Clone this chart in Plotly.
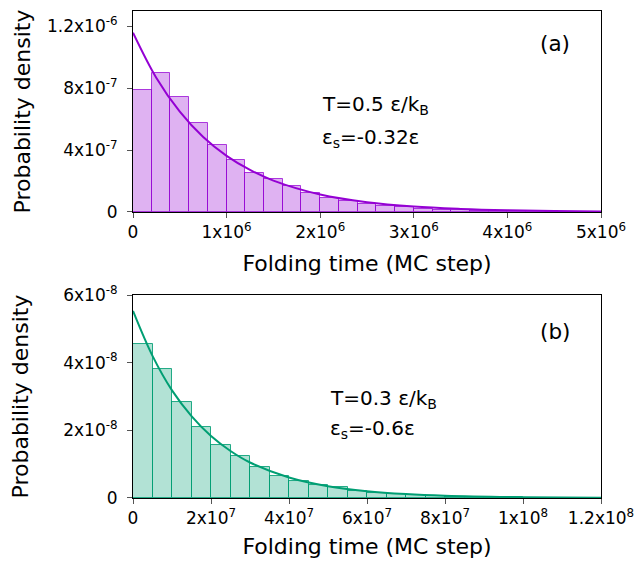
import numpy as np
import plotly.graph_objects as go

# ---------------- data ----------------
# Panel (a): histogram, bin width 2e5 MC steps, from 0 to 5e6
bin_width_a = 2e5
hist_a = [7.9e-7, 9.0e-7, 7.45e-7, 5.75e-7, 4.35e-7, 3.35e-7, 2.5e-7, 2.15e-7,
          1.68e-7, 1.2e-7, 9.3e-8, 7.1e-8, 5.4e-8, 4.1e-8, 3.2e-8, 2.2e-8,
          1.6e-8, 1.2e-8, 9e-9, 7e-9, 5e-9, 4e-9, 3e-9, 2e-9, 1.5e-9]
# Panel (a): fitted curve
fit_a_x = [0, 2.5e5, 5e5, 7.5e5, 1e6, 1.25e6, 1.5e6, 2e6, 2.5e6, 3e6, 3.5e6, 4e6, 4.5e6, 5e6]
fit_a_y = [1.16e-6, 8.67e-7, 6.49e-7, 4.85e-7, 3.63e-7, 2.72e-7, 2.03e-7, 1.13e-7,
           6.3e-8, 3.5e-8, 2.0e-8, 1.1e-8, 6.2e-9, 3.5e-9]

# Panel (b): histogram, bin width 5e6 MC steps, from 0 to 1.2e8
bin_width_b = 5e6
hist_b = [4.56e-8, 3.80e-8, 2.85e-8, 2.11e-8, 1.56e-8, 1.23e-8, 9.2e-9, 6.5e-9,
          5.1e-9, 3.8e-9, 3.2e-9, 2.2e-9, 1.6e-9, 1.2e-9, 8e-10, 6e-10,
          4e-10, 3e-10, 2e-10, 2e-10, 1e-10, 1e-10, 1e-10, 5e-11]
fit_b_x = [0, 5e6, 1e7, 1.5e7, 2e7, 2.5e7, 3e7, 4e7, 5e7, 6e7, 7e7, 8e7, 1e8, 1.2e8]
fit_b_y = [5.53e-8, 4.20e-8, 3.18e-8, 2.42e-8, 1.83e-8, 1.39e-8, 1.05e-8, 6.07e-9,
           3.49e-9, 2.01e-9, 1.15e-9, 6.6e-10, 2.2e-10, 7.3e-11]

# tick labels
xticks_a = [0, 1e6, 2e6, 3e6, 4e6, 5e6]
xlabels_a = ["0", "1x10<sup>6</sup>", "2x10<sup>6</sup>", "3x10<sup>6</sup>",
             "4x10<sup>6</sup>", "5x10<sup>6</sup>"]
yticks_a = [0, 4e-7, 8e-7, 1.2e-6]
ylabels_a = ["0", "4x10<sup>-7</sup>", "8x10<sup>-7</sup>", "1.2x10<sup>-6</sup>"]
xticks_b = [0, 2e7, 4e7, 6e7, 8e7, 1e8, 1.2e8]
xlabels_b = ["0", "2x10<sup>7</sup>", "4x10<sup>7</sup>", "6x10<sup>7</sup>",
             "8x10<sup>7</sup>", "1x10<sup>8</sup>", "1.2x10<sup>8</sup>"]
yticks_b = [0, 2e-8, 4e-8, 6e-8]
ylabels_b = ["0", "2x10<sup>-8</sup>", "4x10<sup>-8</sup>", "6x10<sup>-8</sup>"]

# ---------------- figure ----------------
PURPLE = "#9400d3"
GREEN = "#009e73"
FONT = "DejaVu Sans"

centers_a = np.arange(len(hist_a)) * bin_width_a + bin_width_a / 2
centers_b = np.arange(len(hist_b)) * bin_width_b + bin_width_b / 2

fig = go.Figure()
fig.add_trace(go.Bar(x=centers_a, y=hist_a, width=bin_width_a,
                     marker=dict(color="rgba(148,0,211,0.3)",
                                 line=dict(color="rgba(148,0,211,0.75)", width=1)),
                     xaxis="x", yaxis="y", showlegend=False))
fig.add_trace(go.Scatter(x=fit_a_x, y=fit_a_y, mode="lines",
                         line=dict(color=PURPLE, width=2, shape="spline"),
                         xaxis="x", yaxis="y", showlegend=False))
fig.add_trace(go.Bar(x=centers_b, y=hist_b, width=bin_width_b,
                     marker=dict(color="rgba(0,158,115,0.3)",
                                 line=dict(color="rgba(0,158,115,0.85)", width=1)),
                     xaxis="x2", yaxis="y2", showlegend=False))
fig.add_trace(go.Scatter(x=fit_b_x, y=fit_b_y, mode="lines",
                         line=dict(color=GREEN, width=2, shape="spline"),
                         xaxis="x2", yaxis="y2", showlegend=False))

axis_common = dict(showline=True, linecolor="black", linewidth=1, mirror=True,
                   ticks="outside", ticklen=5, tickcolor="#555", showgrid=False,
                   zeroline=False, automargin=False,
                   tickfont=dict(family=FONT, size=17, color="black"))

title_font = dict(family=FONT, size=22, color="black")

fig.update_layout(
    width=644, height=565,
    margin=dict(l=125, r=51, t=3, b=75, autoexpand=False),
    paper_bgcolor="white", plot_bgcolor="white",
    bargap=0,
    font=dict(family=FONT, color="black"),
    xaxis=dict(domain=[0, 1], anchor="y", range=[0, 5e6],
               tickvals=xticks_a, ticktext=xlabels_a,
               title=dict(text="Folding time (MC step)", font=title_font, standoff=14),
               **axis_common),
    yaxis=dict(domain=[0.5873, 1], anchor="x", range=[0, 1.3e-6],
               tickvals=yticks_a, ticktext=ylabels_a, ticklabelstandoff=6,
               title=dict(text="Probability density", font=title_font, standoff=10),
               **axis_common),
    xaxis2=dict(domain=[0, 1], anchor="y2", range=[0, 1.2e8],
                tickvals=xticks_b, ticktext=xlabels_b,
                title=dict(text="Folding time (MC step)", font=title_font, standoff=11),
                **axis_common),
    yaxis2=dict(domain=[0, 0.4168], anchor="x2", range=[0, 6e-8],
                tickvals=yticks_b, ticktext=ylabels_b, ticklabelstandoff=6,
                title=dict(text="Probability density", font=title_font, standoff=29),
                **axis_common),
)

ann_font = dict(family=FONT, size=20, color="black")
lab_font = dict(family=FONT, size=21.5, color="black")
annotations = [
    dict(text="(a)", x=0.902, y=0.84, xref="x domain", yref="y domain",
         xanchor="center", yanchor="middle", showarrow=False, font=lab_font),
    dict(text="T=0.5 ε/k<sub>B</sub>", x=0.40, y=0.53, xref="x domain", yref="y domain",
         xanchor="left", yanchor="middle", showarrow=False, font=ann_font),
    dict(text="ε<sub>s</sub>=-0.32ε", x=0.40, y=0.37, xref="x domain", yref="y domain",
         xanchor="left", yanchor="middle", showarrow=False, font=ann_font),
    dict(text="(b)", x=0.902, y=0.818, xref="x2 domain", yref="y2 domain",
         xanchor="center", yanchor="middle", showarrow=False, font=lab_font),
    dict(text="T=0.3 ε/k<sub>B</sub>", x=0.417, y=0.49, xref="x2 domain", yref="y2 domain",
         xanchor="left", yanchor="middle", showarrow=False, font=ann_font),
    dict(text="ε<sub>s</sub>=-0.6ε", x=0.417, y=0.34, xref="x2 domain", yref="y2 domain",
         xanchor="left", yanchor="middle", showarrow=False, font=ann_font),
]
fig.update_layout(annotations=annotations)

fig.write_html("out.html")
